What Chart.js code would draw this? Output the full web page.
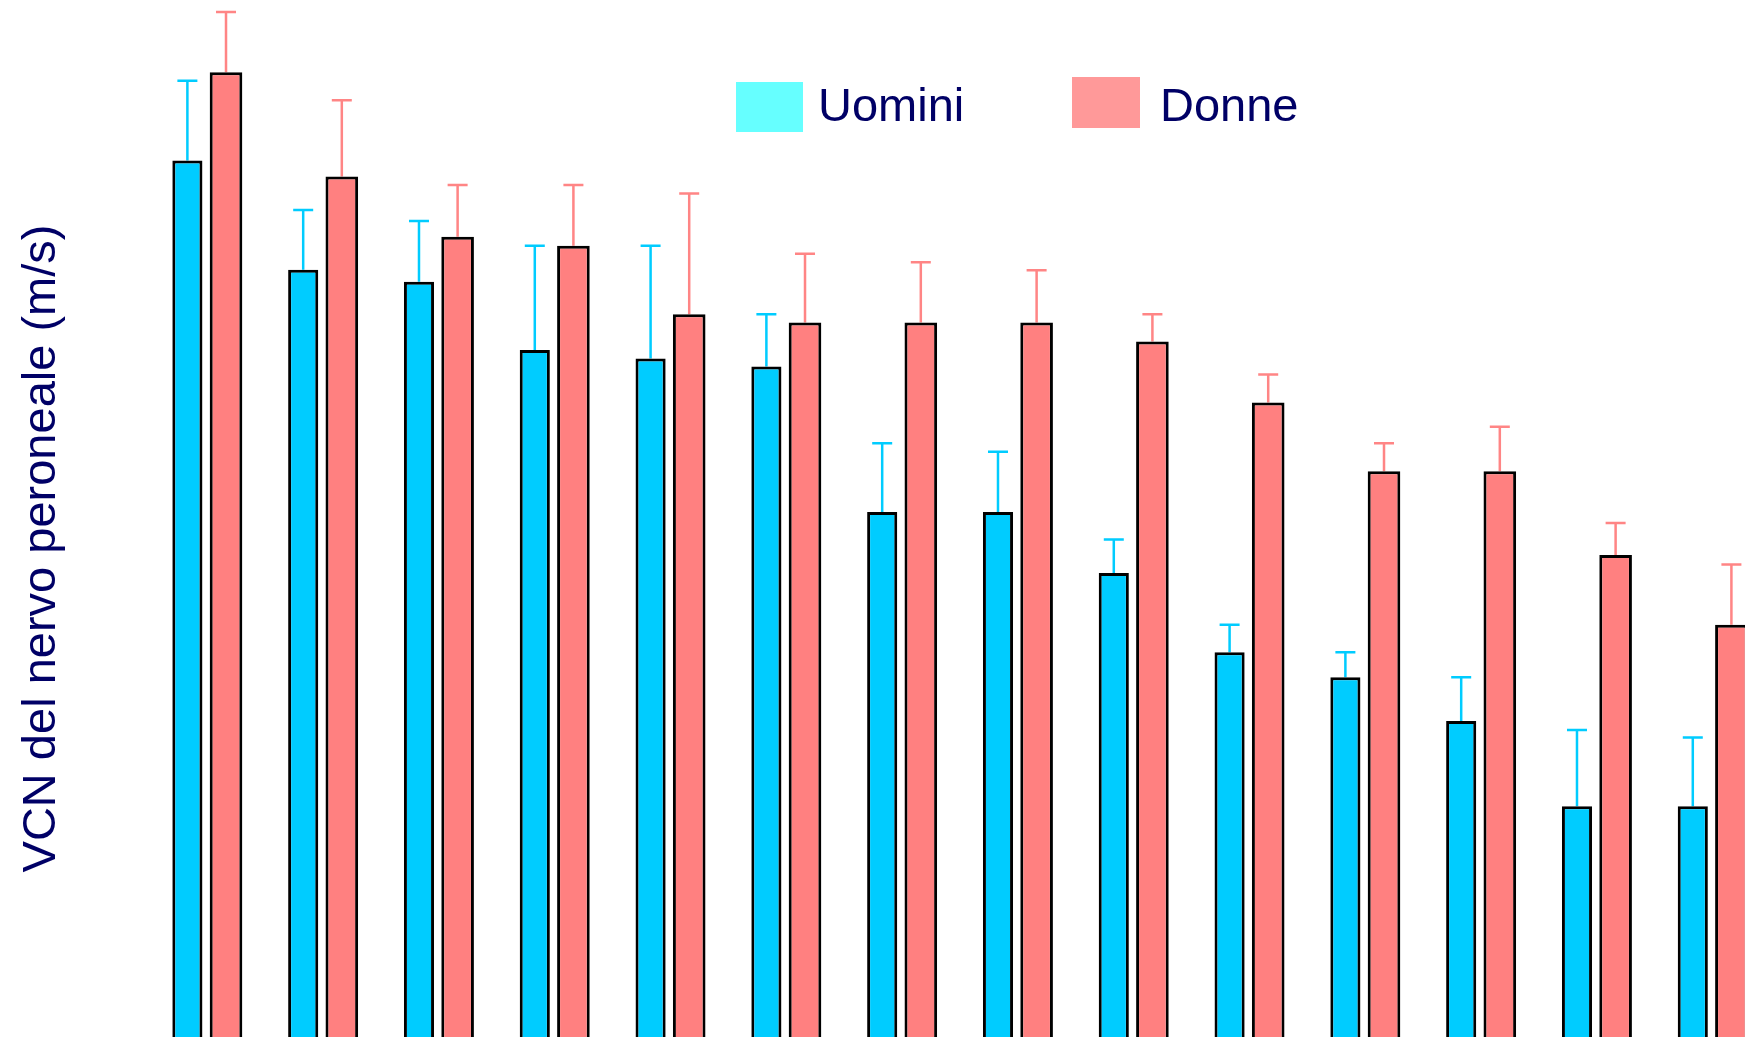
<!DOCTYPE html>
<html lang="it">
<head>
<meta charset="utf-8">
<title>VCN del nervo peroneale</title>
<script src="https://cdn.jsdelivr.net/npm/chart.js@4.4.1/dist/chart.umd.min.js"></script>
<style>
  html, body { margin: 0; padding: 0; background: #ffffff; }
  #frame { width: 1745px; height: 1037px; overflow: hidden; position: relative; }
  #chart { display: block; }
</style>
</head>
<body>
<div id="frame">
  <canvas id="chart" width="1770" height="1100"></canvas>
</div>
<script>
// Groups along the x axis (no labels are printed under the bars)
const categories = ['1', '2', '3', '4', '5', '6', '7', '8', '9', '10', '11', '12', '13', '14'];

// Mean conduction velocity (m/s) and standard deviation for each group
const uominiMean = [52.78, 50.59, 50.35, 48.98, 48.81, 48.65, 45.73, 45.73, 44.51, 42.92, 42.42, 41.54, 39.83, 39.83];
const uominiSD   = [1.60, 1.20, 1.22, 2.09, 2.26, 1.05, 1.38, 1.21, 0.67, 0.55, 0.50, 0.88, 1.53, 1.38];

const donneMean  = [54.55, 52.46, 51.25, 51.07, 49.70, 49.53, 49.53, 49.53, 49.15, 47.93, 46.55, 46.55, 44.87, 43.47];
const donneSD    = [1.21, 1.53, 1.04, 1.22, 2.42, 1.38, 1.21, 1.05, 0.55, 0.56, 0.56, 0.89, 0.64, 1.21];

const seriesLabels = ['Uomini', 'Donne'];
const yTitle = 'VCN del nervo peroneale (m/s)';

const FONT = "'Liberation Sans', Arial, sans-serif";
const TEXT_COLOR = '#000066';

// Upward error bars (mean + SD) drawn under the bar outlines
const errorBars = {
  id: 'errorBars',
  beforeDatasetsDraw(chart) {
    const ctx = chart.ctx;
    const y = chart.scales.y;
    chart.data.datasets.forEach((ds, di) => {
      const meta = chart.getDatasetMeta(di);
      ctx.save();
      ctx.strokeStyle = ds.errorColor;
      ctx.lineWidth = 2.5;
      ctx.lineCap = 'butt';
      meta.data.forEach((bar, i) => {
        const top = y.getPixelForValue(ds.data[i]);
        const cap = y.getPixelForValue(ds.data[i] + ds.sd[i]);
        ctx.beginPath();
        ctx.moveTo(bar.x, top);
        ctx.lineTo(bar.x, cap);
        ctx.moveTo(bar.x - 10, cap);
        ctx.lineTo(bar.x + 10, cap);
        ctx.stroke();
      });
      ctx.restore();
    });
  }
};

// Legend boxes placed inside the plot area
const boxLegend = {
  id: 'boxLegend',
  afterDraw(chart, args, opts) {
    const ctx = chart.ctx;
    ctx.save();
    ctx.font = opts.fontSize + 'px ' + FONT;
    ctx.textBaseline = 'alphabetic';
    chart.data.datasets.forEach((ds, di) => {
      const item = opts.items[di];
      ctx.fillStyle = ds.legendColor;
      ctx.fillRect(item.x, item.y, item.w, item.h);
      ctx.fillStyle = TEXT_COLOR;
      ctx.fillText(ds.label, item.textX, item.baseline);
    });
    ctx.restore();
  }
};

new Chart(document.getElementById('chart'), {
  type: 'bar',
  data: {
    labels: categories,
    datasets: [
      {
        label: seriesLabels[0],
        data: uominiMean,
        sd: uominiSD,
        backgroundColor: '#00CCFF',
        borderColor: '#000000',
        borderWidth: 3,
        errorColor: '#00CCFF',
        legendColor: '#66FFFF',
        barPercentage: 0.78,
        categoryPercentage: 0.667
      },
      {
        label: seriesLabels[1],
        data: donneMean,
        sd: donneSD,
        backgroundColor: '#FF8080',
        borderColor: '#000000',
        borderWidth: 3,
        errorColor: '#FF8585',
        legendColor: '#FF9999',
        barPercentage: 0.845,
        categoryPercentage: 0.667
      }
    ]
  },
  options: {
    responsive: false,
    animation: false,
    devicePixelRatio: 1,
    layout: { padding: { left: 0, right: 0, top: 0, bottom: 3 } },
    plugins: {
      legend: { display: false },
      tooltip: { enabled: false },
      boxLegend: {
        fontSize: 47,
        items: [
          { x: 736, y: 82, w: 67, h: 50, textX: 818, baseline: 121 },
          { x: 1072, y: 77, w: 68, h: 51, textX: 1160, baseline: 121 }
        ]
      }
    },
    scales: {
      x: {
        display: false
      },
      y: {
        min: 34,
        max: 56,
        ticks: { display: false },
        grid: { display: false, drawTicks: false, tickLength: 0 },
        border: { display: false },
        title: {
          display: true,
          text: yTitle,
          color: TEXT_COLOR,
          font: { family: FONT, size: 47, lineHeight: 1.2 },
          padding: { top: 14, bottom: 78.4 }
        }
      }
    }
  },
  plugins: [errorBars, boxLegend]
});
</script>
</body>
</html>
